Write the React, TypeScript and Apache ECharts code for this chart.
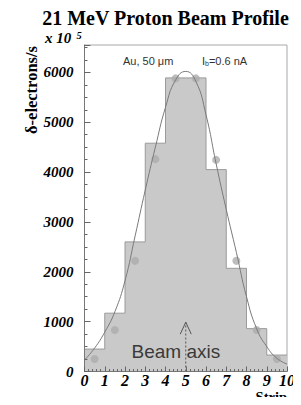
import React, { useEffect, useRef } from "react";
import * as echarts from "echarts";

// Histogram bin contents (strip i spans [i, i+1]), units of 10^5 δ-electrons/s
const binValues = [450, 1170, 2600, 4580, 5890, 5890, 4050, 2070, 860, 330];
// Gray measurement points at bin centres
const pointValues = [250, 833, 2220, 4260, 5880, 5880, 4245, 2220, 833, 250];
// Gaussian-like fit curve
const fitStrip = [0, 0.5, 1, 1.5, 2, 2.5, 3, 3.5, 4, 4.5, 5, 5.5, 6, 6.5, 7, 7.5, 8, 8.5, 9, 9.5, 10];
const fitValue = [230, 470, 790, 1200, 1820, 2720, 3640, 4500, 5300, 5850, 6020, 5820, 5150, 4170, 3250, 2390, 1500, 860, 500, 265, 150];
// Beam axis arrow: strip position and arrow tip value
const beamAxisStrip = 5;
const beamArrowTip = 990;

const xMin = 0;
const xMax = 10;
const yMin = 0;
const yMax = 6550;

export default function App() {
  const ref = useRef<HTMLDivElement>(null);

  useEffect(() => {
    if (!ref.current) return;
    const chart = echarts.init(ref.current, undefined, { renderer: "svg" });

    const stepData: number[][] = binValues.map((v, i) => [i, v]);
    stepData.push([binValues.length, binValues[binValues.length - 1]]);
    const pointData = pointValues.map((v, i) => [i + 0.5, v]);
    const fitData = fitStrip.map((s, i) => [s, fitValue[i]]);

    const serif = "'Liberation Serif', 'Times New Roman', serif";
    const sans = "'Liberation Sans', Arial, sans-serif";

    const option: any = {
      animation: false,
      grid: {
        left: 84.5,
        right: 14,
        top: 45,
        bottom: 33.5,
        show: true,
        borderColor: "#a8a8a8",
        borderWidth: 1,
        backgroundColor: "transparent",
      },
      xAxis: {
        type: "value",
        min: xMin,
        max: xMax,
        interval: 1,
        z: 10,
        axisLine: { show: true, lineStyle: { color: "#777", width: 1 } },
        axisTick: { show: true, inside: true, length: 5, lineStyle: { color: "#666" } },
        minorTick: { show: true, splitNumber: 5, length: 2.5, lineStyle: { color: "#666" } },
        splitLine: { show: false },
        axisLabel: {
          margin: 3,
          fontFamily: serif,
          fontStyle: "italic",
          fontWeight: "bold",
          fontSize: 16,
          lineHeight: 12,
          color: "#000",
        },
      },
      yAxis: [
        {
          type: "value",
          min: yMin,
          max: yMax,
          interval: 1000,
          z: 10,
          axisLine: { show: true, lineStyle: { color: "#777", width: 1 } },
          axisTick: { show: true, inside: true, length: 6, lineStyle: { color: "#666" } },
          splitLine: { show: false },
          axisLabel: {
            margin: 11,
            fontFamily: serif,
            fontStyle: "italic",
            fontWeight: "bold",
            fontSize: 15,
            color: "#000",
            formatter: (v: number) => (v % 1000 === 0 ? String(v) : ""),
          },
        },
        {
          type: "value",
          min: yMin,
          max: yMax,
          interval: 250,
          position: "left",
          z: 10,
          axisLine: { show: false },
          axisTick: { show: true, inside: true, length: 3, lineStyle: { color: "#666" } },
          axisLabel: { show: false },
          splitLine: { show: false },
        },
      ],
      series: [
        {
          type: "line",
          step: "end",
          data: stepData,
          symbol: "none",
          yAxisIndex: 0,
          z: 2,
          lineStyle: { color: "#9a9a9a", width: 1 },
          areaStyle: { color: "#c9c9c9", opacity: 1 },
        },
        {
          type: "scatter",
          data: pointData,
          yAxisIndex: 0,
          symbol: "circle",
          symbolSize: 8,
          z: 3,
          itemStyle: { color: "#acacac" },
        },
        {
          type: "line",
          data: fitData,
          smooth: true,
          symbol: "none",
          yAxisIndex: 0,
          z: 4,
          lineStyle: { color: "#7a7a7a", width: 1 },
        },
        {
          type: "custom",
          yAxisIndex: 0,
          z: 5,
          data: [[beamAxisStrip, 0, beamArrowTip]],
          renderItem: (params: any, api: any) => {
            const p0 = api.coord([api.value(0), api.value(1)]);
            const p1 = api.coord([api.value(0), api.value(2)]);
            return {
              type: "group",
              children: [
                {
                  type: "line",
                  shape: { x1: p0[0], y1: p0[1], x2: p1[0], y2: p1[1] },
                  style: { stroke: "#555", lineWidth: 1, lineDash: [2, 2] },
                },
                {
                  type: "polyline",
                  shape: {
                    points: [
                      [p1[0] - 5.5, p1[1] + 12],
                      [p1[0], p1[1]],
                      [p1[0] + 5.5, p1[1] + 12],
                    ],
                  },
                  style: { stroke: "#555", lineWidth: 1, fill: "none" },
                },
              ],
            };
          },
        },
      ],
      graphic: [
        {
          type: "text",
          x: 165.5,
          y: 18.3,
          style: {
            text: "21 MeV Proton Beam Profile",
            fontFamily: serif,
            fontWeight: "bold",
            fontSize: 20,
            lineHeight: 18,
            fill: "#000",
            align: "center",
            verticalAlign: "middle",
          },
        },
        {
          type: "text",
          x: 45,
          y: 37.5,
          style: {
            text: "x 10",
            fontFamily: serif,
            fontWeight: "bold",
            fontStyle: "italic",
            fontSize: 15,
            lineHeight: 13,
            fill: "#000",
            align: "left",
            verticalAlign: "middle",
          },
        },
        {
          type: "text",
          x: 76.5,
          y: 35,
          style: {
            text: "5",
            fontFamily: serif,
            fontWeight: "bold",
            fontStyle: "italic",
            fontSize: 10.5,
            lineHeight: 9,
            fill: "#000",
            align: "left",
            verticalAlign: "middle",
          },
        },
        {
          type: "text",
          x: 31.5,
          y: 90,
          rotation: Math.PI / 2,
          style: {
            text: "δ-electrons/s",
            fontFamily: serif,
            fontWeight: "bold",
            fontSize: 16.5,
            fill: "#000",
            align: "center",
            verticalAlign: "middle",
          },
        },
        {
          type: "text",
          x: 287,
          y: 397,
          style: {
            text: "Strip",
            fontFamily: serif,
            fontWeight: "bold",
            fontSize: 14.5,
            lineHeight: 11,
            fill: "#000",
            align: "right",
            verticalAlign: "middle",
          },
        },
        {
          type: "text",
          x: 123,
          y: 61,
          style: {
            text: "Au, 50 μm",
            fontFamily: sans,
            fontSize: 11,
            fill: "#333",
            align: "left",
            verticalAlign: "middle",
          },
        },
        {
          type: "text",
          x: 202,
          y: 61,
          style: {
            text: "I{sub|b}=0.6 nA",
            fontFamily: sans,
            fontSize: 11,
            fill: "#333",
            align: "left",
            verticalAlign: "middle",
            rich: {
              sub: { fontSize: 7, fontFamily: sans, fill: "#333", padding: [5, 0, 0, 0] },
            },
          },
        },
        {
          type: "text",
          x: 131.5,
          y: 351.5,
          z: 20,
          style: {
            text: "Beam axis",
            fontFamily: sans,
            fontSize: 19,
            fill: "#3a3a3a",
            align: "left",
            verticalAlign: "middle",
          },
        },
      ],
    };

    chart.setOption(option);
    return () => chart.dispose();
  }, []);

  return <div ref={ref} style={{ width: 301, height: 405, margin: -8 }} />;
}
